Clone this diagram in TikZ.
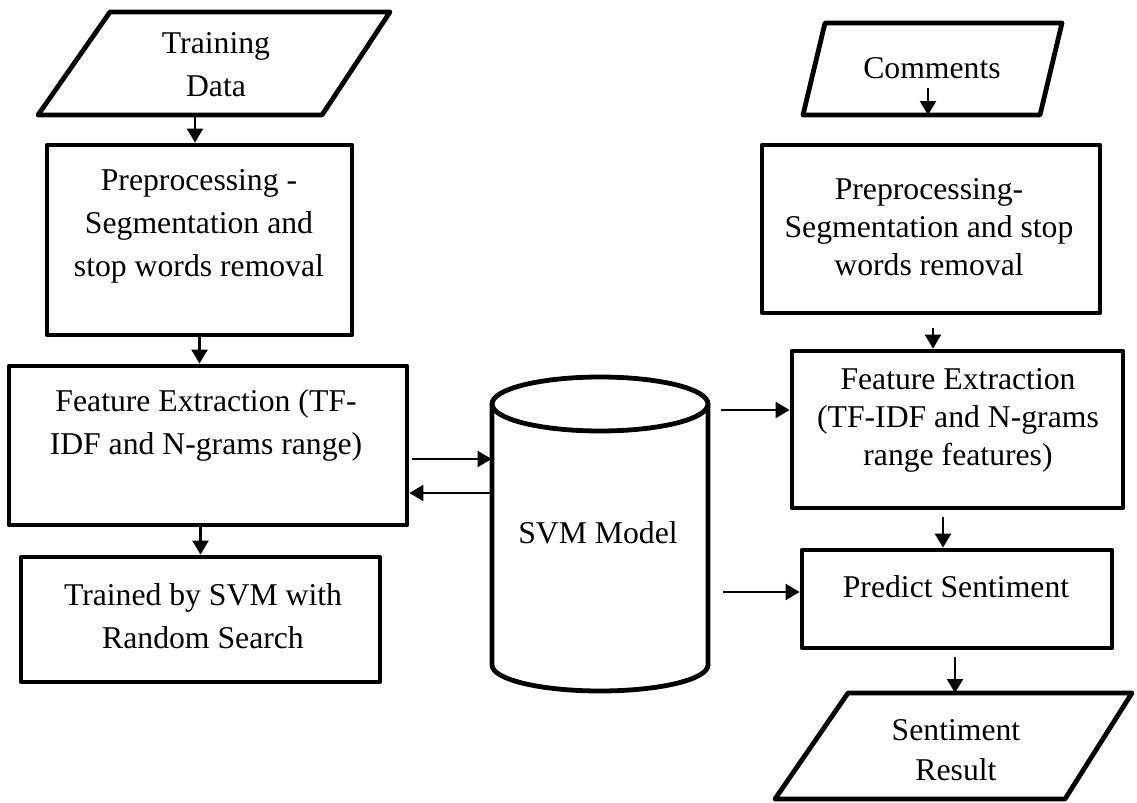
\documentclass[tikz,border=0pt]{standalone}
\usepackage{fontspec}
\setmainfont{Liberation Serif}
\usetikzlibrary{arrows.meta}
\newcommand\myfonta{\fontsize{15.85}{21.5}\selectfont}
\newcommand\myfontb{\fontsize{15.85}{19}\selectfont}
\newcommand\myfontc{\fontsize{15.85}{20}\selectfont}
\begin{document}
\begin{tikzpicture}[x=0.5pt,y=-0.5pt,
 box/.style={draw, line width=2.4pt, line join=round, inner sep=0pt},
 txt/.style={align=center, font=\myfonta, inner sep=0pt},
 txtb/.style={align=center, font=\myfontb, inner sep=0pt},
 txtc/.style={align=center, font=\myfontc, inner sep=0pt},
 arr/.style={-{Triangle[length=7pt,width=8pt]}, line width=1.1pt},
 shp/.style={line width=2.4pt, line join=round}]
\useasboundingbox (0,0) rectangle (1137,803);

% rectangular boxes
\node[box, minimum width=152.5pt, minimum height=95pt] (pre1) at (199.5,240) {};
\node[box, minimum width=199pt, minimum height=79.5pt] (feat1) at (208,445.5) {};
\node[box, minimum width=179.5pt, minimum height=62.5pt] (trained) at (200.5,619.5) {};
\node[box, minimum width=169pt, minimum height=84pt] (pre2) at (931,229) {};
\node[box, minimum width=165.5pt, minimum height=78.5pt] (feat2) at (957.5,429.5) {};
\node[box, minimum width=155pt, minimum height=49pt] (pred) at (957,599) {};
\node[minimum width=108pt, minimum height=157pt, inner sep=0pt] (cyl) at (600,534) {};

% parallelograms
\draw[shp] (110,12) -- (390,12) -- (322,115) -- (38,115) -- cycle;
\draw[shp] (825,23) -- (1062,23) -- (1040,115) -- (803,115) -- cycle;
\draw[shp] (848,693) -- (1132,693) -- (1065,799) -- (775,799) -- cycle;

% cylinder
\draw[shp] (492,404) -- (492,665) arc[start angle=180,end angle=360,x radius=54pt,y radius=13pt] -- (708,404);
\draw[shp] (600,404) ellipse [x radius=54pt, y radius=13.5pt];

% texts
\node[txt] (tdT) at (216,65) {Training\\Data};
\node[txt] (cmT) at (932,68) {Comments};
\node[txt] (pre1T) at (199,226) {Preprocessing -\\Segmentation and\\stop words removal};
\node[txt] (feat1T) at (206,425.5) {Feature Extraction (TF-\\IDF and N-grams range)};
\node[txt] (trT) at (203,616) {Trained by SVM with\\Random Search};
\node[txtb] (pre2T) at (929,227) {Preprocessing-\\Segmentation and stop\\words removal};
\node[txtb] (feat2T) at (958,420) {Feature Extraction\\(TF-IDF and N-grams\\range features)};
\node[txt] (predT) at (956,587) {Predict Sentiment};
\node[txt] (svmT) at (598,533) {SVM Model};
\node[txtc] (resT) at (956,750) {Sentiment\\Result};

% connector end points
\coordinate (tdB) at (195,115);
\coordinate (cmA) at (928,88);
\coordinate (cmB) at (928,115);
\coordinate (resTop) at (955,693);
\coordinate (a1) at (412,459);
\coordinate (a2) at (491,493);
\coordinate (a3) at (721,410);
\coordinate (a4) at (723,592);
\coordinate (a5) at (933,328);
\coordinate (a6) at (943,517);
\coordinate (a7) at (955,657);

% connectors
\draw[arr] (tdB) -- (tdB |- pre1.north);
\draw[arr] (pre1.south) -- (pre1.south |- feat1.north);
\draw[arr] (trained.north |- feat1.south) -- (trained.north);
\draw[arr] (a1) -- (a1 -| cyl.west);
\draw[arr] (a2 -| cyl.west) -- (a2 -| feat1.east);
\draw[arr] (cmA) -- (cmB);
\draw[arr] (a5) -- (a5 |- feat2.north);
\draw[arr] (a3) -- (a3 -| feat2.west);
\draw[arr] (a6) -- (a6 |- pred.north);
\draw[arr] (a4) -- (a4 -| pred.west);
\draw[arr] (a7) -- (resTop);
\end{tikzpicture}
\end{document}
